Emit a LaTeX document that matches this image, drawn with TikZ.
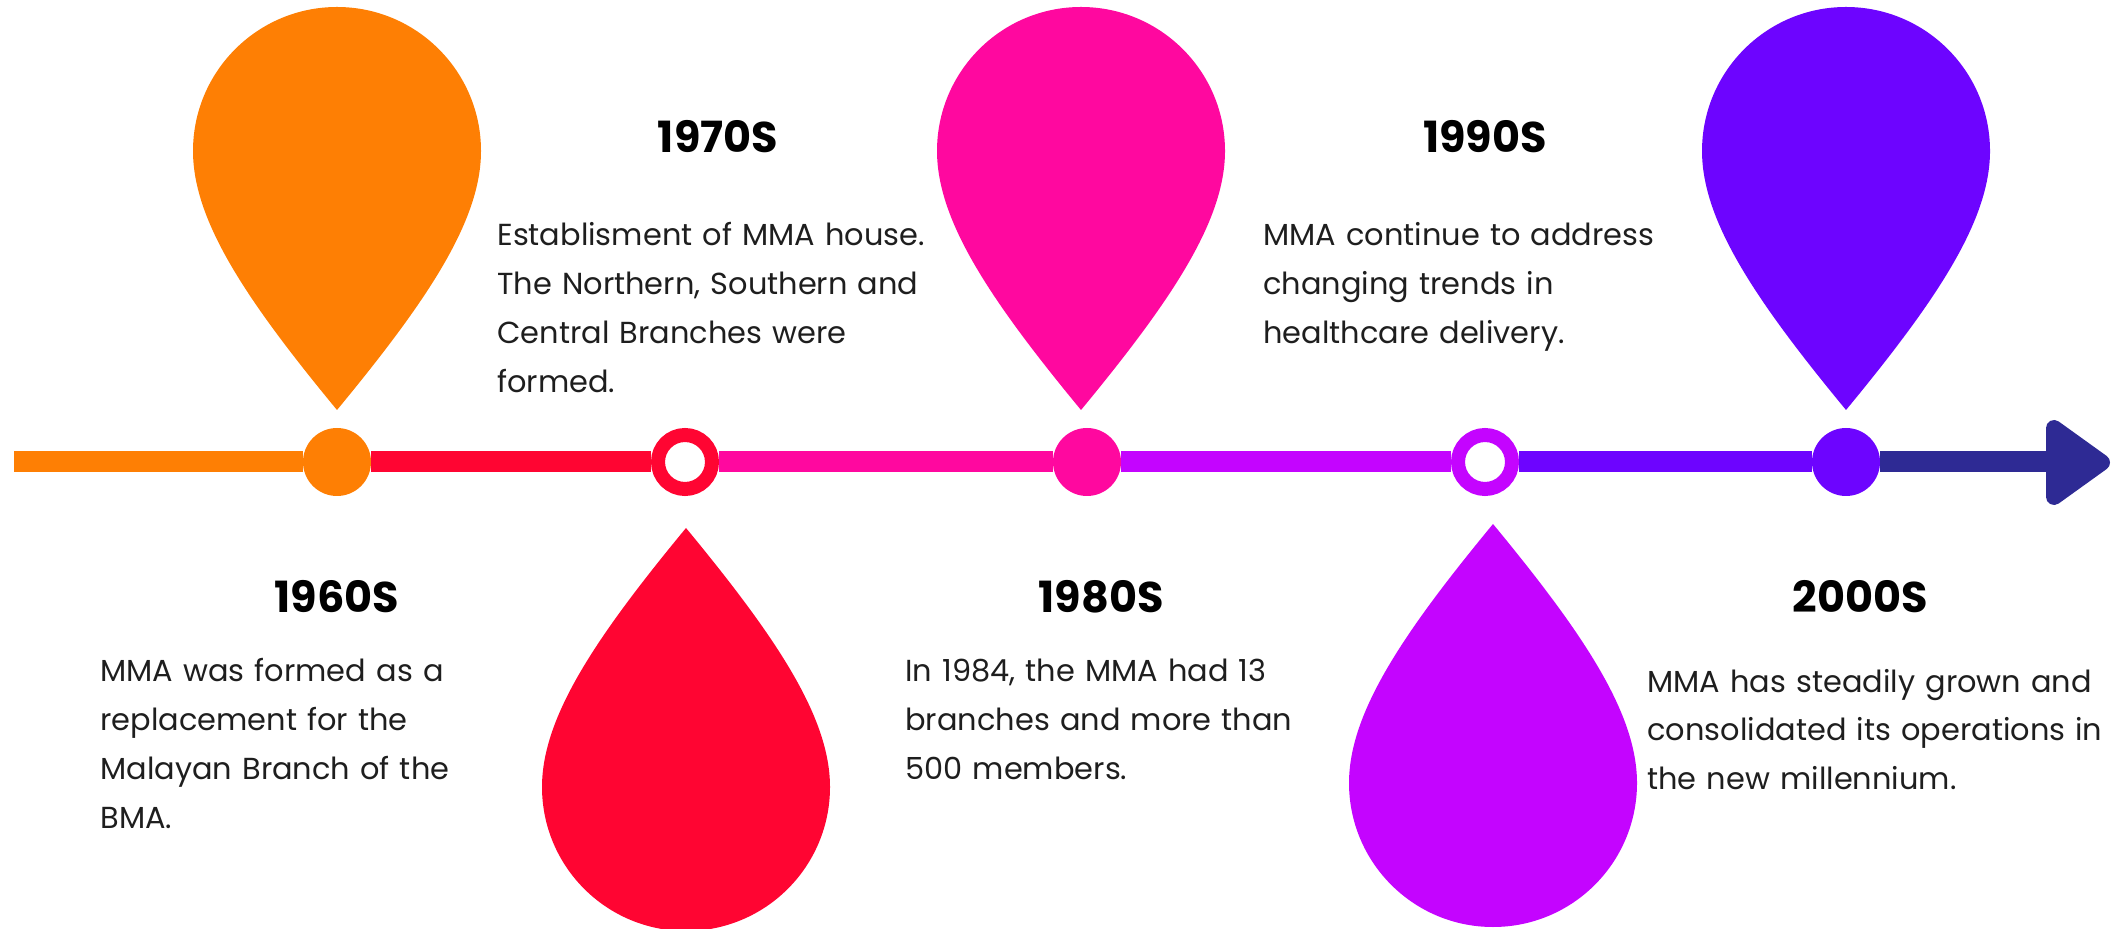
\documentclass[tikz,border=0pt]{standalone}
\usepackage{fontspec}
\setmainfont{Poppins}
\usetikzlibrary{positioning}
\definecolor{cOrange}{HTML}{FE7F04}
\definecolor{cRed}{HTML}{FF0532}
\definecolor{cPink}{HTML}{FF089F}
\definecolor{cMagenta}{HTML}{C404FF}
\definecolor{cViolet}{HTML}{6D04FF}
\definecolor{cNavy}{HTML}{2E2A94}
\definecolor{cText}{HTML}{1E1E1E}
\tikzset{
  droppic/.pic={
    \fill (0,259) .. controls (-90,150) and (-144,70) .. (-144,0)
      arc (180:360:144) .. controls (144,70) and (90,150) .. (0,259) -- cycle;
  },
  seg/.style={line width=10.5pt},
  dotfull/.style={circle, inner sep=0pt, minimum size=34pt, fill=#1},
  dothollow/.style={circle, inner sep=0pt, minimum size=27pt, draw=#1, line width=7pt, fill=white},
  yeartitle/.style={font=\bfseries\fontsize{21.5}{26}\selectfont, text=black, inner sep=0pt, anchor=base},
  bodytext/.style={font=\fontsize{15.2}{24.35}\selectfont, text=cText, inner sep=0pt, anchor=base west, text width=260pt, align=left},
}
\begin{document}
\begin{tikzpicture}[x=0.5pt, y=-0.5pt]
\useasboundingbox (0,0) rectangle (2113,929);
% drops
\pic[cOrange] at (337,151) {droppic};
\pic[cPink] at (1081,151) {droppic};
\pic[cViolet] at (1846,151) {droppic};
\pic[cRed, yscale=-1] at (686,787) {droppic};
\pic[cMagenta, yscale=-1] at (1493,783) {droppic};
% timeline dots
\coordinate (start) at (14,462);
\node[dotfull=cOrange] (d1) at (337,462) {};
\node[dothollow=cRed] (d2) at (685,462) {};
\node[dotfull=cPink] (d3) at (1087,462) {};
\node[dothollow=cMagenta] (d4) at (1485,462) {};
\node[dotfull=cViolet] (d5) at (1846,462) {};
\coordinate (aend) at (2056,462);
% segments
\draw[seg, cOrange] (start) -- (d1);
\draw[seg, cRed] (d1) -- (d2);
\draw[seg, cPink] (d2) -- (d3);
\draw[seg, cMagenta] (d3) -- (d4);
\draw[seg, cViolet] (d4) -- (d5);
\draw[seg, cNavy] (d5) -- (aend);
\filldraw[cNavy, line width=8pt, line join=round] (2054,428) -- (2102,462.5) -- (2054,497) -- cycle;
% titles
\node[yeartitle] (t60) at (337,613) {1960S};
\node[yeartitle] (t70) at (718,153) {1970S};
\node[yeartitle] (t80) at (1101,613) {1980S};
\node[yeartitle] (t90) at (1485,153) {1990S};
\node[yeartitle] (t00) at (1860,613) {2000S};
% bodies
\node[bodytext] (b60) at (100,682) {MMA was formed as a\\replacement for the\\Malayan Branch of the\\BMA.};
\node[bodytext] (b70) at (497,246) {Establisment of MMA house.\\The Northern, Southern and\\Central Branches were\\formed.};
\node[bodytext] (b80) at (905,682) {In 1984, the MMA had 13\\branches and more than\\500 members.};
\node[bodytext] (b90) at (1263,246) {MMA continue to address\\changing trends in\\healthcare delivery.};
\node[bodytext] (b00) at (1647,692) {MMA has steadily grown and\\consolidated its operations in\\the new millennium.};
\end{tikzpicture}
\end{document}
